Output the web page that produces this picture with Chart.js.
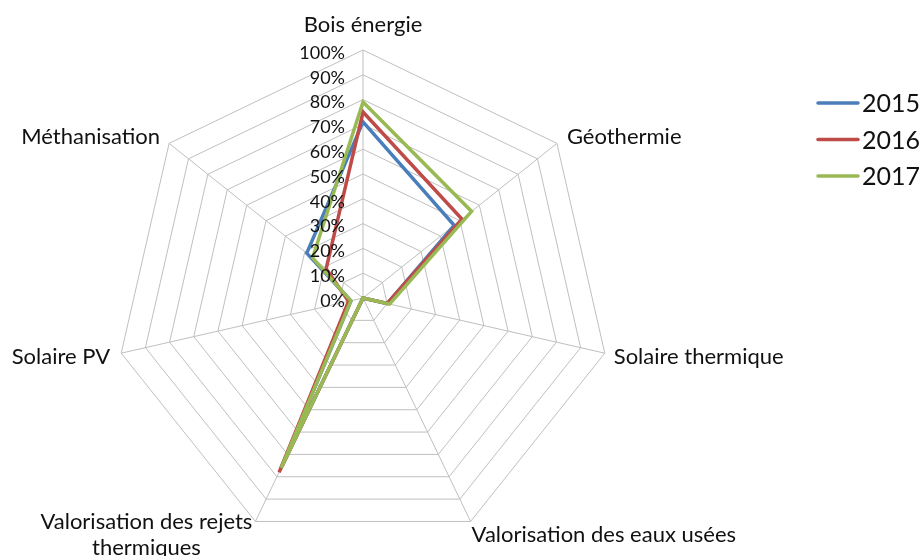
<!DOCTYPE html>
<html><head><meta charset="utf-8">
<script src="https://cdn.jsdelivr.net/npm/chart.js@4/dist/chart.umd.min.js"></script>
<style>html,body{margin:0;padding:0;background:#fff;} #wrap{width:922px;height:556px;}</style>
</head><body><div id="wrap"><canvas id="c" width="922" height="556"></canvas></div>
<script>
const categories = ['Bois énergie', 'Géothermie', 'Solaire thermique', 'Valorisation des eaux usées', ['Valorisation des rejets', 'thermiques'], 'Solaire PV', 'Méthanisation'];
const seriesNames = ['2015', '2016', '2017'];
const values2015 = [71, 47, 10, 0, 75, 5, 29];
const values2016 = [75, 51, 10, 0, 78, 6, 19];
const values2017 = [79, 56, 11, 0, 76, 5, 26];
const tickValues = [0, 10, 20, 30, 40, 50, 60, 70, 80, 90, 100];
const tickLabels = ['0%', '10%', '20%', '30%', '40%', '50%', '60%', '70%', '80%', '90%', '100%'];

const colors = ['#4A7EBB', '#BE4B48', '#98B954'];
const FONT = 'Lato, "Open Sans", sans-serif';
const TEXT = '#111111';

// label placement style (alignment and offsets from the outer vertex)
const labelAlign = ['center', 'left', 'left', 'left', 'right', 'right', 'right'];
const labelDx = [0, 10, 9, 1, -3, -11, -9];
const labelDy = [-25, -6, 4, 13, 13, 4, -6];

const customText = {
  id: 'customText',
  afterDraw(chart) {
    const s = chart.scales.r;
    const ctx = chart.ctx;
    ctx.save();
    // tick labels
    ctx.font = '18px ' + FONT;
    ctx.fillStyle = TEXT;
    ctx.textAlign = 'right';
    ctx.textBaseline = 'middle';
    tickValues.forEach((v, i) => {
      const d = s.getDistanceFromCenterForValue(v);
      ctx.fillText(tickLabels[i], s.xCenter - 18, s.yCenter - d + 3);
    });
    // point labels
    ctx.font = '22px ' + FONT;
    categories.forEach((lab, i) => {
      const p = s.getPointPosition(i, s.drawingArea);
      const lines = Array.isArray(lab) ? lab : [lab];
      const lh = 26;
      const widths = lines.map(l => ctx.measureText(l).width);
      const maxW = Math.max(...widths);
      const ax = p.x + labelDx[i];
      const cy = p.y + labelDy[i];
      let blockCenter;
      if (labelAlign[i] === 'center') blockCenter = ax;
      else if (labelAlign[i] === 'left') blockCenter = ax + maxW / 2;
      else blockCenter = ax - maxW / 2;
      ctx.textAlign = 'center';
      lines.forEach((l, k) => {
        const y = cy - (lines.length - 1) * lh / 2 + k * lh;
        ctx.fillText(l, blockCenter, y);
      });
    });
    // legend
    ctx.font = '25px ' + FONT;
    ctx.textAlign = 'left';
    chart.data.datasets.forEach((ds, i) => {
      const y = 103 + i * 36.5;
      ctx.strokeStyle = ds.borderColor;
      ctx.lineWidth = 3.5;
      ctx.lineCap = 'round';
      ctx.beginPath();
      ctx.moveTo(818, y);
      ctx.lineTo(858, y);
      ctx.stroke();
      ctx.fillText(ds.label, 862, y + 1);
    });
    ctx.restore();
  }
};

new Chart(document.getElementById('c'), {
  type: 'radar',
  data: {
    labels: categories,
    datasets: [
      { label: seriesNames[0], data: values2015, borderColor: colors[0], order: 3 },
      { label: seriesNames[1], data: values2016, borderColor: colors[1], order: 2 },
      { label: seriesNames[2], data: values2017, borderColor: colors[2], order: 1 }
    ].map(d => Object.assign(d, { backgroundColor: 'transparent', fill: false, borderWidth: 3.5, pointRadius: 0, pointHoverRadius: 0, tension: 0, borderJoinStyle: 'miter' }))
  },
  options: {
    responsive: false,
    animation: false,
    events: [],
    layout: { padding: { top: 50, bottom: 10, left: 115, right: 311 } },
    plugins: { legend: { display: false }, tooltip: { enabled: false } },
    scales: {
      r: {
        min: 0, max: 100,
        ticks: { stepSize: 10, display: false },
        grid: { color: '#BFBFBF', lineWidth: 1 },
        angleLines: { color: '#BFBFBF', lineWidth: 1 },
        pointLabels: { display: false }
      }
    }
  },
  plugins: [customText]
});
</script>
</body></html>
